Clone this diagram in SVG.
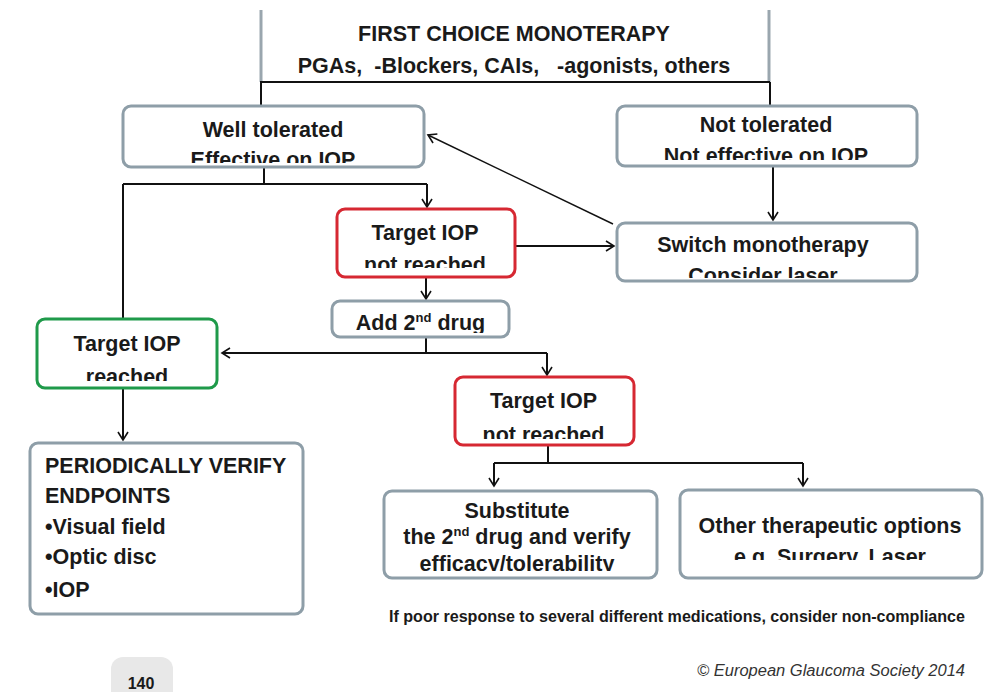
<svg xmlns="http://www.w3.org/2000/svg" width="1004" height="692" viewBox="0 0 1004 692">
<style>
.box{fill:#ffffff;stroke:#8e9ea8;stroke-width:3}
.red{fill:#ffffff;stroke:#d62832;stroke-width:3}
.green{fill:#ffffff;stroke:#1f9a4a;stroke-width:3}
.t{font-family:"Liberation Sans",Arial,sans-serif;font-weight:bold;font-size:21.5px;fill:#1a1a1a}
.c{text-anchor:middle}
.ln{fill:none;stroke:#111111;stroke-width:2}
.thin{fill:none;stroke:#111111;stroke-width:1.4}
.sup{font-size:13px}
</style>
<defs>
<marker id="ah" markerUnits="userSpaceOnUse" markerWidth="12" markerHeight="12" refX="8" refY="5" orient="auto" viewBox="-1 -1 11 12">
<path d="M0,0 L8,5 L0,10" fill="none" stroke="#111111" stroke-width="1.6"/>
</marker>
<clipPath id="cWell"><rect x="123" y="106" width="301" height="57"/></clipPath>
<clipPath id="cNot"><rect x="617" y="106" width="300" height="54"/></clipPath>
<clipPath id="cSwitch"><rect x="617" y="223" width="300" height="55"/></clipPath>
<clipPath id="cRed1"><rect x="337" y="209" width="178" height="59"/></clipPath>
<clipPath id="cAdd"><rect x="332" y="301" width="177" height="32"/></clipPath>
<clipPath id="cGreen"><rect x="37" y="319" width="180" height="62"/></clipPath>
<clipPath id="cRed2"><rect x="455" y="377" width="179" height="62"/></clipPath>
<clipPath id="cSub"><rect x="384" y="491" width="273" height="80"/></clipPath>
<clipPath id="cOther"><rect x="680" y="490" width="302" height="70"/></clipPath>
</defs>
<rect width="1004" height="692" fill="#ffffff"/>

<g id="first-choice">
<line x1="261" y1="10" x2="261" y2="82" stroke="#9aa6ae" stroke-width="3"/>
<line x1="769" y1="10" x2="769" y2="82" stroke="#9aa6ae" stroke-width="3"/>
<text class="t c" x="514" y="41">FIRST CHOICE MONOTERAPY</text>
<text class="t c" x="514" y="73" xml:space="preserve">PGAs,  -Blockers, CAIs,   -agonists, others</text>
</g>

<g id="connectors">
<path class="ln" d="M260,82 H770 M261,82 V106 M770,82 V106"/>
<path class="ln" d="M773,166 V220" marker-end="url(#ah)"/>
<path class="thin" d="M613,224 L428,135" marker-end="url(#ah)"/>
<path class="ln" d="M264,167 V184 M123,184 H427 M123,184 V319"/>
<path class="ln" d="M427,184 V207" marker-end="url(#ah)"/>
<path class="ln" d="M515,246 H614" marker-end="url(#ah)"/>
<path class="ln" d="M426,277 V299" marker-end="url(#ah)"/>
<path class="ln" d="M426,337 V353 M547,353 H222" marker-end="url(#ah)"/>
<path class="ln" d="M547,353 V375" marker-end="url(#ah)"/>
<path class="ln" d="M123,388 V440" marker-end="url(#ah)"/>
<path class="ln" d="M548,445 V463 M494,463 H803"/>
<path class="ln" d="M494,463 V486" marker-end="url(#ah)"/>
<path class="ln" d="M803,463 V486" marker-end="url(#ah)"/>
</g>

<g id="well-tolerated">
<rect class="box" x="123" y="106" width="301" height="61" rx="8"/>
<g clip-path="url(#cWell)">
<text class="t c" x="273" y="137">Well tolerated</text>
<text class="t c" x="273" y="167">Effective on IOP</text>
</g>
</g>

<g id="not-tolerated">
<rect class="box" x="617" y="106" width="300" height="60" rx="8"/>
<g clip-path="url(#cNot)">
<text class="t c" x="766" y="132">Not tolerated</text>
<text class="t c" x="766" y="163">Not effective on IOP</text>
</g>
</g>

<g id="switch">
<rect class="box" x="617" y="223" width="300" height="58" rx="8"/>
<g clip-path="url(#cSwitch)">
<text class="t c" x="763" y="252">Switch monotherapy</text>
<text class="t c" x="763" y="283">Consider laser</text>
</g>
</g>

<g id="target-not-reached-1">
<rect class="red" x="337" y="209" width="178" height="68" rx="8"/>
<g clip-path="url(#cRed1)">
<text class="t c" x="425" y="240">Target IOP</text>
<text class="t c" x="425" y="272">not reached</text>
</g>
</g>

<g id="add-second">
<rect class="box" x="332" y="301" width="177" height="36" rx="8"/>
<g clip-path="url(#cAdd)">
<text class="t c" x="420.5" y="330">Add 2<tspan class="sup" dy="-8">nd</tspan><tspan dy="8"> drug</tspan></text>
</g>
</g>

<g id="target-reached">
<rect class="green" x="37" y="319" width="180" height="69" rx="8"/>
<g clip-path="url(#cGreen)">
<text class="t c" x="127" y="351">Target IOP</text>
<text class="t c" x="127" y="384">reached</text>
</g>
</g>

<g id="verify">
<rect class="box" x="30" y="443" width="273" height="171" rx="8"/>
<text class="t" x="45" y="473">PERIODICALLY VERIFY</text>
<text class="t" x="45" y="503">ENDPOINTS</text>
<text class="t" x="45" y="534">•Visual field</text>
<text class="t" x="45" y="564">•Optic disc</text>
<text class="t" x="45" y="597">•IOP</text>
</g>

<g id="target-not-reached-2">
<rect class="red" x="455" y="377" width="179" height="68" rx="8"/>
<g clip-path="url(#cRed2)">
<text class="t c" x="543.5" y="408">Target IOP</text>
<text class="t c" x="543.5" y="442">not reached</text>
</g>
</g>

<g id="substitute">
<rect class="box" x="384" y="491" width="273" height="87" rx="8"/>
<g clip-path="url(#cSub)">
<text class="t c" x="517" y="518">Substitute</text>
<text class="t c" x="517" y="544">the 2<tspan class="sup" dy="-8">nd</tspan><tspan dy="8"> drug and verify</tspan></text>
<text class="t c" x="517" y="571">efficacy/tolerability</text>
</g>
</g>

<g id="other-options">
<rect class="box" x="680" y="490" width="302" height="88" rx="8"/>
<g clip-path="url(#cOther)">
<text class="t c" x="830" y="533">Other therapeutic options</text>
<text class="t c" x="830" y="564">e.g. Surgery, Laser</text>
</g>
</g>

<g id="footer">
<text class="t" x="389" y="622" style="font-size:16px" textLength="576" lengthAdjust="spacingAndGlyphs">If poor response to several different medications, consider non-compliance</text>
<rect x="111" y="657" width="62" height="50" rx="12" fill="#e8e8e8"/>
<text class="t c" x="141" y="689" style="font-size:16px">140</text>
<text x="965" y="676" text-anchor="end" font-family="Liberation Sans, Arial, sans-serif" font-style="italic" font-size="16" fill="#333333" textLength="268" lengthAdjust="spacingAndGlyphs">© European Glaucoma Society 2014</text>
</g>
</svg>
